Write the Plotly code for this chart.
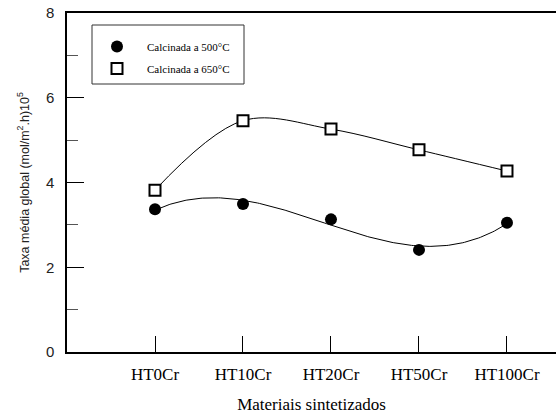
import numpy as np
import plotly.graph_objects as go

categories = ["HT0Cr", "HT10Cr", "HT20Cr", "HT50Cr", "HT100Cr"]
calc500 = [3.37, 3.49, 3.13, 2.41, 3.05]
calc650 = [3.82, 5.46, 5.26, 4.77, 4.27]

xi = np.arange(len(categories))
xf = np.linspace(0, len(categories) - 1, 200)
fit500 = np.polyval(np.polyfit(xi, calc500, 3), xf)

fig = go.Figure()
fig.add_trace(go.Scatter(x=xf, y=fit500, mode="lines", line=dict(color="black", width=1),
                         showlegend=False, hoverinfo="skip"))
fig.add_trace(go.Scatter(x=xi, y=calc650, mode="lines", line=dict(color="black", width=1, shape="spline", smoothing=1),
                         showlegend=False, hoverinfo="skip"))
fig.add_trace(go.Scatter(x=xi, y=calc500, mode="markers", name="Calcinada a 500°C", legendgroup="a",
                         marker=dict(symbol="circle", size=12, color="black")))
fig.add_trace(go.Scatter(x=xi, y=calc650, mode="markers", name="Calcinada a 650°C", legendgroup="b",
                         marker=dict(symbol="square", size=11, color="white",
                                     line=dict(color="black", width=2))))

def px_x(p):
    return (p - 67) / 489

def px_y(p):
    return (352 - p) / 339

fig.add_shape(type="rect", xref="paper", yref="paper",
              x0=px_x(92), x1=px_x(244), y0=px_y(84), y1=px_y(25),
              line=dict(color="#333", width=1), fillcolor="rgba(0,0,0,0)")

fig.update_layout(
    width=556, height=414,
    margin=dict(l=67, r=0, t=13, b=62),
    paper_bgcolor="white", plot_bgcolor="white",
    showlegend=True,
    legend=dict(x=px_x(87), y=px_y(32), xanchor="left", yanchor="top",
                borderwidth=0, bgcolor="rgba(0,0,0,0)",
                font=dict(family="Liberation Serif", size=11, color="black"),
                itemwidth=50, tracegroupgap=3),
    font=dict(family="Liberation Sans", color="black"),
)
fig.update_xaxes(
    range=[-1, 4.557], tickvals=list(xi), ticktext=categories,
    ticks="inside", ticklen=16, tickcolor="black", tickwidth=1,
    showline=True, linecolor="black", linewidth=1.5, mirror=True,
    showgrid=False, zeroline=False, ticklabelstandoff=6,
    tickfont=dict(family="Liberation Serif", size=17, color="black"),
    title=dict(text="Materiais sintetizados", standoff=16,
               font=dict(family="Liberation Serif", size=17, color="black")),
)
fig.update_yaxes(
    range=[0, 8], dtick=2, tick0=0,
    ticks="inside", ticklen=17, tickcolor="black", tickwidth=1,
    minor=dict(dtick=1, tick0=0, ticks="inside", ticklen=11, tickcolor="#555"),
    showline=True, linecolor="black", linewidth=1.5,
    showgrid=False, zeroline=False, ticklabelstandoff=8,
    tickfont=dict(family="Liberation Sans", size=15, color="#222"),
    title=dict(text="Taxa média global (mol/m<sup>2</sup>.h)10<sup>5</sup>", standoff=14,
               font=dict(family="Liberation Sans", size=12.5, color="#222")),
)

fig.write_html("out.html")
